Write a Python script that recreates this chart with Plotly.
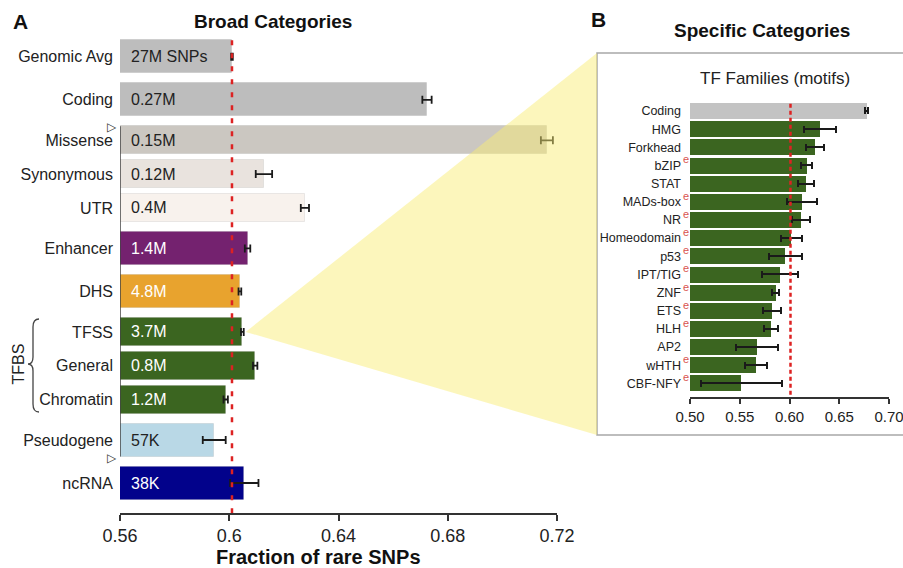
import plotly.graph_objects as go

# ---------------- data ----------------
broad_categories = ["Genomic Avg", "Coding", "Missense", "Synonymous", "UTR", "Enhancer",
                    "DHS", "TFSS", "General", "Chromatin", "Pseudogene", "ncRNA"]
broad_values = [0.601, 0.6724, 0.7163, 0.6127, 0.6277, 0.6067,
                0.6039, 0.6048, 0.6095, 0.5987, 0.5945, 0.6055]
broad_errors = [0.0003, 0.0017, 0.0022, 0.0030, 0.0015, 0.0010,
                0.0005, 0.0005, 0.0008, 0.0008, 0.0042, 0.0052]
broad_counts = ["27M SNPs", "0.27M", "0.15M", "0.12M", "0.4M", "1.4M",
                "4.8M", "3.7M", "0.8M", "1.2M", "57K", "38K"]
broad_group = [0, 1, 2, 2, 2, 3, 4, 5, 5, 5, 6, 7]

tf_families = ["Coding", "HMG", "Forkhead", "bZIP", "STAT", "MADs-box", "NR", "Homeodomain",
               "p53", "IPT/TIG", "ZNF", "ETS", "HLH", "AP2", "wHTH", "CBF-NFY"]
tf_values = [0.6776, 0.6307, 0.6256, 0.6173, 0.6166, 0.6129, 0.6116, 0.6018,
             0.5958, 0.5905, 0.5861, 0.5827, 0.5814, 0.5673, 0.5663, 0.5516]
tf_errors = [0.0015, 0.0164, 0.0087, 0.0054, 0.0085, 0.0150, 0.0087, 0.0106,
             0.0164, 0.0180, 0.0034, 0.0092, 0.0069, 0.0214, 0.0106, 0.0405]
tf_marked_e = [False, False, False, True, False, True, True, True,
               True, True, True, True, True, False, True, True]

x_ticks_a = [0.56, 0.60, 0.64, 0.68, 0.72]
x_ticks_b = [0.50, 0.55, 0.60, 0.65, 0.70]

# ---------------- styles ----------------
W, H = 903, 568
broad_colors = ["#bdbdbd", "#bdbdbd", "#cbc7c1", "#e9e3de", "#f8f2ed", "#74226f",
                "#e8a32e", "#3b6520", "#3b6520", "#3b6520", "#b9d8e6", "#02028b"]
broad_text_colors = ["#222", "#222", "#222", "#222", "#222", "white",
                     "white", "white", "white", "white", "#222", "white"]
green = "#3b6520"
tf_colors = ["#c3c3c3"] + [green] * (len(tf_families) - 1)
red = "#dd2222"
FONT = "Liberation Sans, Arial, sans-serif"

def px_x(p):
    return p / W

def px_y(p):
    return 1 - p / H

# pixel boxes of the plotting areas
A_left, A_right, A_top, A_bottom = 120, 557, 35, 513
B_left, B_right, B_top, B_bottom = 690, 889, 101.9, 397

# bar slot layout for panel A (units = px of the y axis)
thick, thin, gap_between, gap_within = 33, 28, 10.0, 5.8
sizes = {g: broad_group.count(g) for g in broad_group}
positions, widths, tops, bottoms = [], [], [], []
top = 5.3
for i, g in enumerate(broad_group):
    if i > 0:
        top += gap_within if g == broad_group[i - 1] else gap_between
    t = thin if sizes[g] > 1 else thick
    positions.append(top + t / 2)
    widths.append(t)
    tops.append(top)
    bottoms.append(top + t)
    top += t

A_span = A_bottom - A_top
genomic_ref = broad_values[0]

fig = go.Figure()

fig.add_trace(go.Bar(
    x=broad_values, y=positions, orientation="h", width=widths,
    marker=dict(color=broad_colors, line=dict(width=1, color="rgba(0,0,0,0.07)")),
    error_x=dict(type="data", array=broad_errors, color="#1a1a1a", thickness=1.8, width=4),
    xaxis="x", yaxis="y", hoverinfo="skip",
))

fig.add_trace(go.Bar(
    x=tf_values, y=tf_families, orientation="h", width=0.88,
    marker=dict(color=tf_colors, line=dict(width=0)),
    error_x=dict(type="data", array=tf_errors, color="#1a1a1a", thickness=2, width=3.5),
    xaxis="x2", yaxis="y2", hoverinfo="skip",
))

fig.update_layout(
    width=W, height=H, margin=dict(l=0, r=0, t=0, b=0, autoexpand=False),
    paper_bgcolor="white", plot_bgcolor="rgba(0,0,0,0)",
    showlegend=False, font=dict(family=FONT, color="#222"),
    bargap=0,
    xaxis=dict(domain=[px_x(A_left), px_x(A_right)], range=[x_ticks_a[0], x_ticks_a[-1]],
               tickvals=x_ticks_a, ticktext=[f"{v:g}" for v in x_ticks_a],
               ticks="outside", ticklen=6, tickwidth=1.5, tickcolor="#333",
               showline=True, linecolor="#333", linewidth=1.5, automargin=False,
               showgrid=False, zeroline=False, tickfont=dict(size=18, color="#222"),
               anchor="y"),
    yaxis=dict(domain=[px_y(A_bottom), px_y(A_top)], range=[A_span, 0],
               tickvals=positions, ticktext=broad_categories, ticks="",
               ticklabelstandoff=6, automargin=False,
               showline=False, showgrid=False, zeroline=False,
               tickfont=dict(size=16, color="#222"), anchor="x"),
    xaxis2=dict(domain=[px_x(B_left), px_x(B_right)], range=[x_ticks_b[0], x_ticks_b[-1]],
                tickvals=x_ticks_b, ticktext=[f"{v:.2f}" for v in x_ticks_b],
                ticks="outside", ticklen=5, tickwidth=1.5, tickcolor="#333",
                showline=True, linecolor="#333", linewidth=1.5, automargin=False,
                ticklabeloverflow="allow",
                showgrid=False, zeroline=False, tickfont=dict(size=15, color="#222"),
                anchor="y2"),
    yaxis2=dict(domain=[px_y(B_bottom), px_y(B_top)], range=[len(tf_families) - 0.25, -0.5],
                type="category", ticks="", ticklabelstandoff=8, automargin=False,
                showline=False, showgrid=False, zeroline=False,
                tickfont=dict(size=12.5, color="#222"), anchor="x2"),
)

shapes = []
# panel B frame
shapes.append(dict(type="rect", xref="paper", yref="paper",
                   x0=px_x(597), x1=px_x(908), y0=px_y(435), y1=px_y(53),
                   line=dict(color="#a8a8a8", width=1.5), fillcolor="white", layer="below"))
# red reference lines
shapes.append(dict(type="line", xref="x", yref="y", x0=genomic_ref, x1=genomic_ref,
                   y0=tops[0], y1=A_span, line=dict(color=red, width=2.5, dash="5px,8px")))
shapes.append(dict(type="line", xref="x2", yref="y2", x0=genomic_ref, x1=genomic_ref,
                   y0=-0.4, y1=len(tf_families) - 0.25,
                   line=dict(color=red, width=2.5, dash="4px,3px")))
# genic bracket line (Missense .. Pseudogene)
i_mis, i_pse = broad_categories.index("Missense"), broad_categories.index("Pseudogene")
shapes.append(dict(type="line", xref="x", yref="y", x0=x_ticks_a[0], x1=x_ticks_a[0],
                   y0=tops[i_mis], y1=bottoms[i_pse], line=dict(color="#444", width=1.5)))

# yellow zoom triangle from TFSS bar to panel B frame
i_tfss = broad_categories.index("TFSS")
ax_px = A_left + (broad_values[i_tfss] + broad_errors[i_tfss] - x_ticks_a[0]) / \
    (x_ticks_a[-1] - x_ticks_a[0]) * (A_right - A_left) + 2
ay_px = A_top + positions[i_tfss]
tri = f"M {px_x(ax_px)},{px_y(ay_px)} L {px_x(597)},{px_y(53)} L {px_x(597)},{px_y(435)} Z"
shapes.append(dict(type="path", xref="paper", yref="paper", path=tri,
                   fillcolor="rgba(249,237,115,0.48)", line=dict(width=0), layer="above"))

# TFBS curly brace
def P(x, y):
    return f"{px_x(x)},{px_y(y)}"
brace = (f"M {P(39,319)} Q {P(33,319)} {P(33,327)} L {P(33,357)} Q {P(33,364)} {P(28,364)} "
         f"Q {P(33,364)} {P(33,371)} L {P(33,404)} Q {P(33,412)} {P(39,412)}")
shapes.append(dict(type="path", xref="paper", yref="paper", path=brace,
                   line=dict(color="#444", width=1.3)))
fig.update_layout(shapes=shapes)

ann = []
# counts inside bars
for v, p, txt, c in zip(broad_values, positions, broad_counts, broad_text_colors):
    ann.append(dict(x=x_ticks_a[0], y=p, xref="x", yref="y", text=txt, showarrow=False,
                    xanchor="left", yanchor="middle", xshift=9, font=dict(size=16, color=c)))
# red superscript "e"
for name, m in zip(tf_families, tf_marked_e):
    if m:
        ann.append(dict(x=x_ticks_b[0], y=name, xref="x2", yref="y2", text="e", showarrow=False,
                        xanchor="left", yanchor="middle", xshift=-9, yshift=6,
                        font=dict(size=11, color="#d9534f")))

def label(x, y, text, size, color="#111", **kw):
    d = dict(x=px_x(x), y=px_y(y), xref="paper", yref="paper", text=text, showarrow=False,
             xanchor="center", yanchor="middle", font=dict(size=size, color=color))
    d.update(kw)
    return d

ann += [
    label(20, 21, "<b>A</b>", 21),
    label(598, 19, "<b>B</b>", 21),
    label(272.5, 21, "<b>Broad Categories</b>", 19),
    label(761.5, 30, "<b>Specific Categories</b>", 19),
    label(775, 79, "TF Families (motifs)", 17, "#222"),
    label(318, 557, "<b>Fraction of rare SNPs</b>", 20),
    label(17.5, 364, "TFBS", 16, "#222", textangle=-90),
]
for yy in (127, 458):
    d = label(112, yy, "▷", 12, "#333")
    d["font"]["family"] = "DejaVu Sans"
    ann.append(d)
fig.update_layout(annotations=ann)

fig.write_html("out.html", config={"displayModeBar": False},
               post_script="document.body.style.margin='0';")
